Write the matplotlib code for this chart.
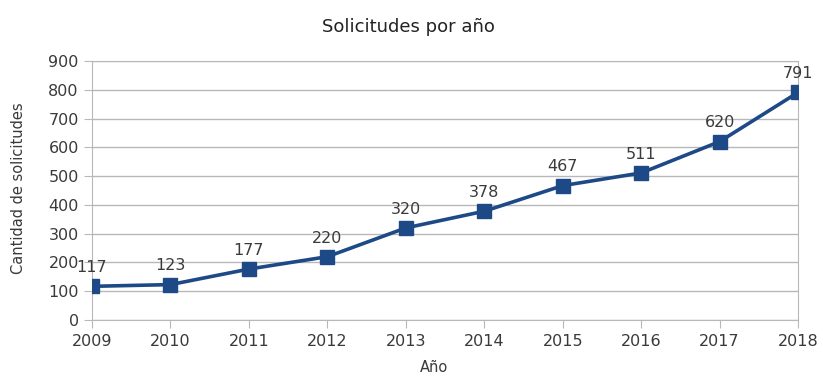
import matplotlib.pyplot as plt

# Solicitudes registradas por año
anios = [2009, 2010, 2011, 2012, 2013, 2014, 2015, 2016, 2017, 2018]
solicitudes = [117, 123, 177, 220, 320, 378, 467, 511, 620, 791]

azul = '#1d4a86'
gris = '#b8b8b8'
texto = '#3a3a3a'

fig = plt.figure(figsize=(8.23, 3.77), dpi=100)
ax = fig.add_axes([0.1118, 0.1512, 0.858, 0.687])

ax.plot(anios, solicitudes, color=azul, linewidth=2.6, marker='s',
        markersize=10, markerfacecolor=azul, markeredgecolor=azul, zorder=3)

# Etiquetas de valor encima de cada punto
for x, y in zip(anios, solicitudes):
    ax.annotate(str(y), (x, y), xytext=(0, 8), textcoords='offset points',
                ha='center', va='bottom', fontsize=11.5, color=texto)

ax.set_xlim(anios[0], anios[-1])
ax.set_ylim(0, 900)
ax.set_yticks(range(0, 901, 100))
ax.set_xticks(anios)
ax.grid(axis='y', color=gris, linewidth=1)
ax.set_axisbelow(True)

for lado in ['left', 'bottom', 'right', 'top']:
    ax.spines[lado].set_color(gris)
ax.tick_params(colors=gris, labelcolor=texto, labelsize=11.5, length=6)
ax.tick_params(axis='x', pad=4)

fig.text(0.496, 0.928, 'Solicitudes por año', fontsize=13, color='#222222',
         ha='center', va='center')
fig.text(0.527, 0.005, 'Año', fontsize=10.5, color=texto, ha='center', va='bottom')
fig.text(0.022, 0.5, 'Cantidad de solicitudes', fontsize=10.5, color=texto,
         rotation=90, ha='center', va='center')

fig.savefig('out.png', dpi=100, facecolor='white')
